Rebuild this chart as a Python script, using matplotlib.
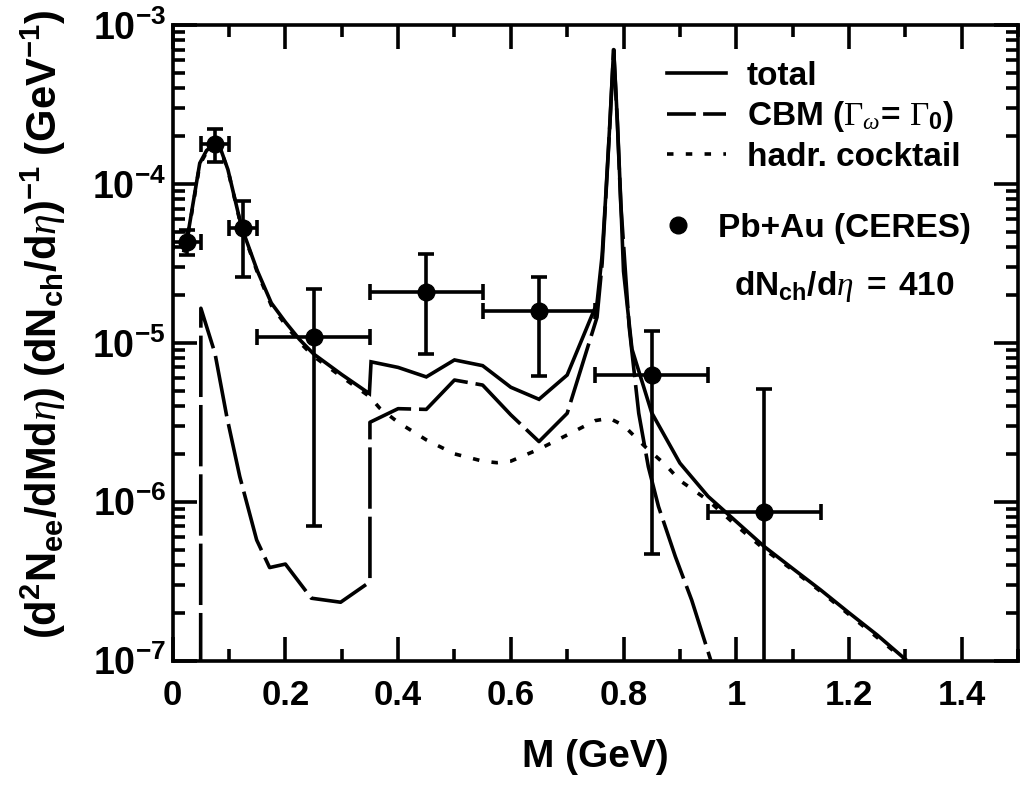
import numpy as np
import matplotlib
matplotlib.use('Agg')
import matplotlib.pyplot as plt
from matplotlib.lines import Line2D
from matplotlib.ticker import FixedLocator, MultipleLocator, LogLocator, FuncFormatter, NullFormatter

plt.rcParams['font.family'] = ['Liberation Sans', 'DejaVu Sans']
plt.rcParams['font.weight'] = 'bold'
plt.rcParams['mathtext.fontset'] = 'custom'
plt.rcParams['mathtext.rm'] = 'Liberation Serif:regular'
plt.rcParams['mathtext.it'] = 'Liberation Serif:italic:regular'
plt.rcParams['mathtext.bf'] = 'Liberation Sans:bold'

# total (solid)
total_m = [0.02, 0.025, 0.048, 0.06, 0.075, 0.085, 0.098, 0.122, 0.15, 0.175,
           0.2, 0.225, 0.25, 0.3, 0.349, 0.352, 0.4, 0.45, 0.5, 0.55,
           0.6, 0.65, 0.7, 0.753, 0.762, 0.768, 0.776, 0.7825, 0.789, 0.795,
           0.8, 0.815, 0.85, 0.9, 0.95, 1.0, 1.05, 1.1, 1.15, 1.2, 1.25, 1.3]
total_y = [3.80e-5, 4.37e-5, 1.35e-4, 1.62e-4, 1.80e-4, 1.66e-4, 1.23e-4, 5.37e-5, 2.85e-5, 1.78e-5,
           1.35e-5, 1.05e-5, 8.51e-6, 6.31e-6, 4.79e-6, 7.59e-6, 7.00e-6, 6.10e-6, 7.80e-6, 7.18e-6,
           5.25e-6, 4.41e-6, 6.27e-6, 1.78e-5, 3.55e-5, 7.94e-5, 2.51e-4, 7.08e-4, 2.51e-4, 7.94e-5,
           2.82e-5, 9.12e-6, 3.63e-6, 1.75e-6, 1.08e-6, 7.50e-7, 5.21e-7, 3.80e-7, 2.78e-7, 2.00e-7, 1.45e-7, 1.02e-7]

# CBM (dashed)
cbm_m = [0.0495, 0.05, 0.075, 0.096, 0.119, 0.149, 0.172, 0.2, 0.246, 0.298,
         0.346, 0.35, 0.35, 0.4, 0.45, 0.5, 0.55, 0.6, 0.65, 0.7,
         0.753, 0.762, 0.768, 0.776, 0.7825, 0.789, 0.795, 0.81, 0.827, 0.844,
         0.862, 0.892, 0.921, 0.955]
cbm_y = [3.0e-8, 1.65e-5, 8.59e-6, 3.43e-6, 1.44e-6, 5.74e-7, 3.85e-7, 4.05e-7, 2.47e-7, 2.33e-7,
         3.06e-7, 3.24e-7, 3.16e-6, 3.85e-6, 3.81e-6, 5.83e-6, 5.42e-6, 3.52e-6, 2.39e-6, 3.60e-6,
         1.45e-5, 3.16e-5, 7.59e-5, 2.45e-4, 7.00e-4, 2.45e-4, 7.59e-5, 1.26e-5, 3.60e-6, 1.66e-6,
         9.33e-7, 4.51e-7, 2.40e-7, 1.00e-7]

# hadronic cocktail (dotted)
cock_m = [0.02, 0.025, 0.048, 0.06, 0.075, 0.085, 0.098, 0.122, 0.15, 0.175,
          0.2, 0.225, 0.25, 0.3, 0.35, 0.367, 0.4, 0.45, 0.5, 0.55,
          0.575, 0.6, 0.65, 0.7, 0.75, 0.775, 0.8, 0.84, 0.875, 0.9,
          0.95, 1.0, 1.05, 1.1, 1.15, 1.2, 1.25, 1.3]
cock_y = [3.72e-5, 4.27e-5, 1.32e-4, 1.58e-4, 1.78e-4, 1.64e-4, 1.22e-4, 5.31e-5, 2.79e-5, 1.72e-5,
          1.30e-5, 1.01e-5, 8.22e-6, 6.10e-6, 4.57e-6, 3.89e-6, 3.16e-6, 2.45e-6, 2.00e-6, 1.80e-6,
          1.76e-6, 1.80e-6, 2.14e-6, 2.63e-6, 3.24e-6, 3.35e-6, 3.02e-6, 2.19e-6, 1.70e-6, 1.36e-6,
          1.02e-6, 7.08e-7, 5.01e-7, 3.72e-7, 2.72e-7, 1.95e-7, 1.40e-7, 1.00e-7]

# Pb+Au (CERES) data
ceres_m = [0.025, 0.075, 0.125, 0.25, 0.45, 0.65, 0.85, 1.05]
ceres_dm = [0.025, 0.025, 0.025, 0.1, 0.1, 0.1, 0.1, 0.1]
ceres_y = [4.33e-5, 1.78e-4, 5.25e-5, 1.09e-5, 2.1e-5, 1.59e-5, 6.27e-6, 8.65e-7]
ceres_hi = [5.1e-5, 2.2e-4, 7.8e-5, 2.17e-5, 3.6e-5, 2.6e-5, 1.19e-5, 5.1e-6]
ceres_lo = [3.55e-5, 1.38e-4, 2.6e-5, 7.0e-7, 8.5e-6, 6.2e-6, 4.7e-7, 1e-9]

xticks = [0, 0.2, 0.4, 0.6, 0.8, 1.0, 1.2, 1.4]
xticklabels = ['0', '0.2', '0.4', '0.6', '0.8', '1', '1.2', '1.4']

W, H = 1021, 789
fig = plt.figure(figsize=(W / 100, H / 100), dpi=100)
ax = fig.add_axes([172.7 / W, 1 - 660.6 / H, (1018 - 172.7) / W, (660.6 - 25) / H])

lw = 2.6
ax.plot(total_m, total_y, color='k', lw=lw, solid_joinstyle='miter')
ax.plot(cbm_m, cbm_y, color='k', lw=lw, ls=(0, (17, 2.2)))
ax.plot(cock_m, cock_y, color='k', lw=lw, ls=(0, (1.8, 3.4)))

y = np.array(ceres_y)
yerr = [y - np.array(ceres_lo), np.array(ceres_hi) - y]
ax.errorbar(ceres_m, ceres_y, xerr=ceres_dm, yerr=yerr, fmt='o', color='k',
            ms=12, elinewidth=lw, capsize=5.5, capthick=lw)

ax.set_yscale('log')
ax.set_xlim(0, 1.5)
ax.set_ylim(1e-7, 1e-3)

ax.xaxis.set_major_locator(FixedLocator(xticks))
ax.set_xticklabels(xticklabels)
ax.xaxis.set_minor_locator(MultipleLocator(0.1))
ax.yaxis.set_major_locator(LogLocator(base=10))
ax.yaxis.set_minor_locator(LogLocator(base=10, subs=np.arange(2, 10)))
ax.yaxis.set_minor_formatter(NullFormatter())
ax.yaxis.set_major_formatter(FuncFormatter(lambda v, p: r'$\mathbf{10^{%d}}$' % round(np.log10(v))))

ax.tick_params(which='both', direction='in', top=True, right=True, width=lw)
ax.tick_params(which='major', length=17)
ax.tick_params(which='minor', length=8.6)
ax.tick_params(axis='x', pad=13, labelsize=25)
ax.tick_params(axis='y', pad=5, labelsize=27)
for s in ax.spines.values():
    s.set_linewidth(lw)

ax.set_xlabel('M (GeV)', fontsize=28, fontweight='bold', labelpad=20)
ax.set_ylabel(r'$\mathbf{(d^2N_{ee}/dMd}\eta\mathbf{)\ (dN_{ch}/d}\eta\mathbf{)^{-1}\ (GeV^{-1})}$',
              fontsize=30, va='center')
ax.yaxis.set_label_coords(-0.153, 0.53)

handles = [Line2D([], [], color='k', lw=lw),
           Line2D([], [], color='k', lw=lw, ls=(0, (8, 2))),
           Line2D([], [], color='k', lw=lw, ls=(0, (1.8, 3.4)))]
labels = ['total', r'CBM ($\Gamma_\omega$= $\Gamma_\mathbf{0}$)', 'hadr. cocktail']
leg = ax.legend(handles, labels, loc='upper left', bbox_to_anchor=(667 / W, 1 - 61 / H),
                bbox_transform=fig.transFigure, frameon=False, borderpad=0, borderaxespad=0,
                handlelength=1.77, handletextpad=0.63, labelspacing=0.22,
                prop={'size': 24, 'weight': 'bold'})
ax.add_artist(leg)

pt = [Line2D([], [], ls='none', marker='o', ms=12, color='k')]
ax.legend(pt, ['Pb+Au (CERES)'], loc='upper left', bbox_to_anchor=(661.4 / W, 1 - 213 / H),
          bbox_transform=fig.transFigure, frameon=False, borderpad=0, borderaxespad=0,
          handlelength=1.0, handletextpad=0.7, numpoints=1,
          prop={'size': 24, 'weight': 'bold'})

fig.text(844 / W, 1 - 287 / H, r'$\mathbf{dN_{ch}/d}\eta\mathbf{\ =\ 410}$',
         fontsize=24, ha='center', va='center')

fig.savefig('out.png', dpi=100)
